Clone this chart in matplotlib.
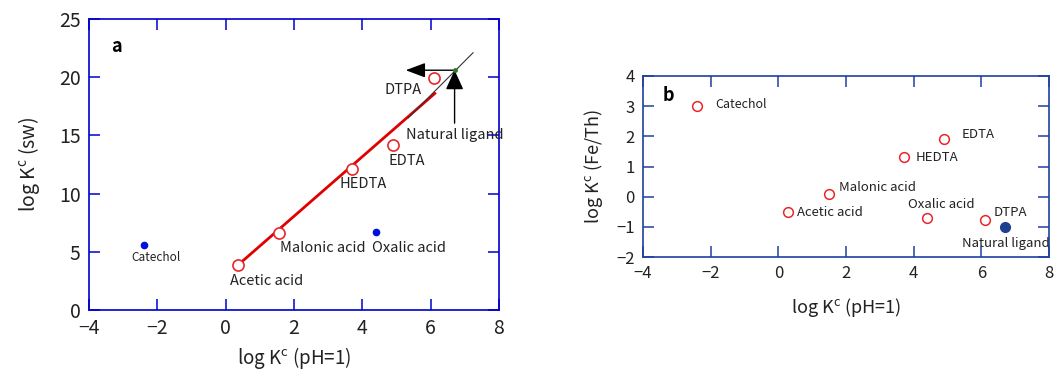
import numpy as np
import matplotlib
matplotlib.use('Agg')
import matplotlib.pyplot as plt

plt.rcParams['font.family'] = ['Noto Sans CJK JP', 'DejaVu Sans']
plt.rcParams['mathtext.fontset'] = 'custom'
plt.rcParams['mathtext.rm'] = 'Noto Sans CJK JP'
plt.rcParams['mathtext.it'] = 'Noto Sans CJK JP'

# panel a data: log Kc (pH=1) vs log Kc (sw)
red_names = ['Acetic acid', 'Malonic acid', 'HEDTA', 'EDTA', 'DTPA']
red_x = [0.35, 1.55, 3.7, 4.9, 6.1]
red_y = [3.85, 6.6, 12.1, 14.2, 19.9]
blue_names = ['Catechol', 'Oxalic acid']
blue_x = [-2.4, 4.4]
blue_y = [5.6, 6.7]
nat_x, nat_y = 6.7, 20.6
fit_x = [0.31, 6.12]
fit_y = [3.73, 18.6]
ref_x = [5.34, 7.24]
ref_y = [16.5, 22.1]

# panel b data: log Kc (pH=1) vs log Kc (Fe/Th)
b_names = ['Catechol', 'Acetic acid', 'Malonic acid', 'HEDTA', 'EDTA', 'Oxalic acid', 'DTPA']
b_x = [-2.4, 0.3, 1.5, 3.7, 4.9, 4.4, 6.1]
b_y = [3.02, -0.52, 0.1, 1.3, 1.9, -0.7, -0.79]
b_nat_x, b_nat_y = 6.7, -1.0

W, H = 1055, 374
fig = plt.figure(figsize=(W / 100, H / 100), dpi=100)
ax1 = fig.add_axes([89 / W, 1 - 310 / H, 410 / W, 291 / H])
ax2 = fig.add_axes([643 / W, 1 - 257 / H, 406 / W, 181 / H])

red = '#e8262a'
txt = '#222222'


def style(ax, frame, fs):
    for s in ax.spines.values():
        s.set_color(frame)
        s.set_linewidth(1.2)
    ax.tick_params(direction='in', top=True, right=True, length=8, width=1.1,
                   color=frame, labelsize=fs, labelcolor=txt, pad=6)


# ---- panel a
ax1.plot(fit_x, fit_y, color='#e00000', lw=2, zorder=2)
ax1.plot(ref_x, ref_y, color='#333333', lw=0.8, zorder=3)
ax1.plot(red_x, red_y, 'o', ms=8, mfc='white', mec=red, mew=1.2, zorder=4)
ax1.plot(blue_x, blue_y, 'o', ms=4.5, color='#0010dd', zorder=4)
ax1.plot(nat_x, nat_y, 'o', ms=2.5, color='#2a7a2a', zorder=5)
ax1.annotate('', xy=(5.27, nat_y), xytext=(nat_x, nat_y),
             arrowprops=dict(arrowstyle='-|>,head_length=1.2,head_width=0.45',
                             color='black', lw=1, shrinkA=0, shrinkB=0))
ax1.annotate('', xy=(nat_x, nat_y), xytext=(nat_x, 16.05),
             arrowprops=dict(arrowstyle='-|>,head_length=1.2,head_width=0.55',
                             color='black', lw=1, shrinkA=0, shrinkB=0))

fa = 10.5
ax1.text(0.14, 2.45, 'Acetic acid', fontsize=fa, color=txt, va='center')
ax1.text(1.58, 5.3, 'Malonic acid', fontsize=fa, color=txt, va='center')
ax1.text(4.29, 5.3, 'Oxalic acid', fontsize=fa, color=txt, va='center')
ax1.text(4.02, 10.8, 'HEDTA', fontsize=fa, color=txt, ha='center', va='center')
ax1.text(5.29, 12.8, 'EDTA', fontsize=fa, color=txt, ha='center', va='center')
ax1.text(5.2, 18.9, 'DTPA', fontsize=fa, color=txt, ha='center', va='center')
ax1.text(5.29, 15.05, 'Natural ligand', fontsize=fa, color=txt, va='center')
ax1.text(-2.76, 4.5, 'Catechol', fontsize=8.5, color=txt, va='center')
ax1.text(-3.2, 22.6, 'a', fontsize=13, fontweight='bold', va='center', ha='center')

ax1.set_xlim(-4, 8)
ax1.set_ylim(0, 25)
ax1.set_xticks(np.arange(-4, 9, 2))
ax1.set_yticks(np.arange(0, 26, 5))
style(ax1, '#0000cc', 14)
ax1.set_xlabel('log K$^{c}$ (pH=1)', fontsize=13.5, color=txt, labelpad=4)
ax1.set_ylabel('log K$^{c}$ (sw)', fontsize=14, color=txt, labelpad=12)

# ---- panel b
ax2.plot(b_x, b_y, 'o', ms=7, mfc='white', mec=red, mew=1.1, zorder=4)
ax2.plot(b_nat_x, b_nat_y, 'o', ms=7, color='#1f3f8f', zorder=4)

fb = 9.5
b_lab = {'Catechol': (-1.86, 3.05), 'Acetic acid': (0.56, -0.52),
         'Malonic acid': (1.78, 0.3), 'HEDTA': (4.05, 1.3), 'EDTA': (5.41, 2.05),
         'Oxalic acid': (3.83, -0.27), 'DTPA': (6.37, -0.51)}
for n in b_names:
    lx, ly = b_lab[n]
    ax2.text(lx, ly, n, fontsize=fb if n != 'Catechol' else 9, color=txt, va='center')
ax2.text(5.44, -1.56, 'Natural ligand', fontsize=fb, color=txt, va='center')
ax2.text(-3.25, 3.37, 'b', fontsize=13, fontweight='bold', va='center', ha='center')

ax2.set_xlim(-4, 8)
ax2.set_ylim(-2, 4)
ax2.set_xticks(np.arange(-4, 9, 2))
ax2.set_yticks(np.arange(-2, 5, 1))
style(ax2, '#2040a0', 12)
ax2.set_xlabel('log K$^{c}$ (pH=1)', fontsize=13, color=txt, labelpad=10)
ax2.set_ylabel('log K$^{c}$ (Fe/Th)', fontsize=13, color=txt, labelpad=8)

fig.savefig('out.png', dpi=100)
